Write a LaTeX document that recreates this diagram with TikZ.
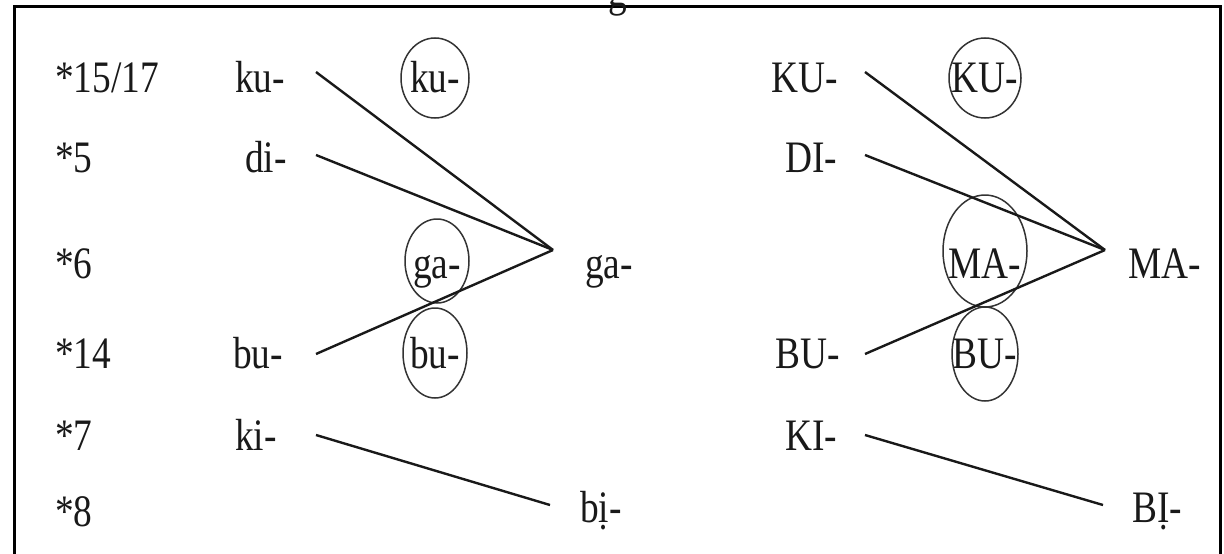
\documentclass[tikz,border=0pt]{standalone}
\usepackage{fontspec}
\setmainfont{Liberation Serif}[FakeStretch=0.83]
\begin{document}
\begin{tikzpicture}[x=1pt,y=-1pt,
  lbl/.style={anchor=base,inner sep=0pt,font=\fontsize{45}{50}\selectfont,text=black!90},
  lblw/.style={lbl,anchor=base west},
  conn/.style={line width=2.4pt,black!90},
  ring/.style={line width=1.5pt,black!80}]
\useasboundingbox (0,0) rectangle (1224,554);
\clip (0,0) rectangle (1224,554);
% frame
\draw[line width=3pt] (14,560) -- (14,6) -- (1220,6) -- (1220,560);
% cut-off title fragment
\node[lbl] (title) at (618,6) {g};
% row labels
\node[lblw] (r1) at (55,92) {*15/17};
\node[lblw] (r2) at (55,172) {*5};
\node[lblw] (r3) at (55,278) {*6};
\node[lblw] (r4) at (55,368) {*14};
\node[lblw] (r5) at (55,450) {*7};
\node[lblw] (r6) at (55,526) {*8};
% left sources
\node[lbl] (ku) at (260,92) {ku-};
\node[lbl] (di) at (266,172) {di-};
\node[lbl] (bu) at (258,368) {bu-};
\node[lbl] (ki) at (256,450) {ki-};
% left circled
\node[lbl] (cku) at (435,92) {ku-};
\node[lbl] (cga) at (437,278) {ga-};
\node[lbl] (cbu) at (435,368) {bu-};
\draw[ring] (435,78) ellipse [x radius=34, y radius=40];
\draw[ring] (437,261) ellipse [x radius=32, y radius=42];
\draw[ring] (435,353) ellipse [x radius=32, y radius=45];
% left targets
\node[lbl] (ga) at (609,278) {ga-};
\node[lbl] (bi) at (601,522) {bị-};
% right sources
\node[lbl] (KU) at (805,92) {KU-};
\node[lbl] (DI) at (811,172) {DI-};
\node[lbl] (BU) at (808,368) {BU-};
\node[lbl] (KI) at (811,450) {KI-};
% right circled
\node[lbl] (cKU) at (985,92) {KU-};
\node[lbl] (cMA) at (985,278) {MA-};
\node[lbl] (cBU) at (985,368) {BU-};
\draw[ring] (985,78) ellipse [x radius=36, y radius=40];
\draw[ring] (985,251) ellipse [x radius=42, y radius=56];
\draw[ring] (985,354) ellipse [x radius=33, y radius=47];
% right targets
\node[lbl] (MA) at (1165,278) {MA-};
\node[lbl] (BI) at (1157,522) {BỊ-};
% connector end points
\coordinate (ku-e) at (316,72);
\coordinate (di-e) at (316,155);
\coordinate (bu-e) at (316,354);
\coordinate (ki-e) at (316,435);
\coordinate (ga-p) at (553,250);
\coordinate (bi-p) at (550,505);
\coordinate (KU-e) at (865,72);
\coordinate (DI-e) at (865,155);
\coordinate (BU-e) at (865,354);
\coordinate (KI-e) at (865,435);
\coordinate (MA-p) at (1105,250);
\coordinate (BI-p) at (1103,505);
\draw[conn] (ku-e) -- (ga-p);
\draw[conn] (di-e) -- (ga-p);
\draw[conn] (bu-e) -- (ga-p);
\draw[conn] (ki-e) -- (bi-p);
\draw[conn] (KU-e) -- (MA-p);
\draw[conn] (DI-e) -- (MA-p);
\draw[conn] (BU-e) -- (MA-p);
\draw[conn] (KI-e) -- (BI-p);
\end{tikzpicture}
\end{document}
